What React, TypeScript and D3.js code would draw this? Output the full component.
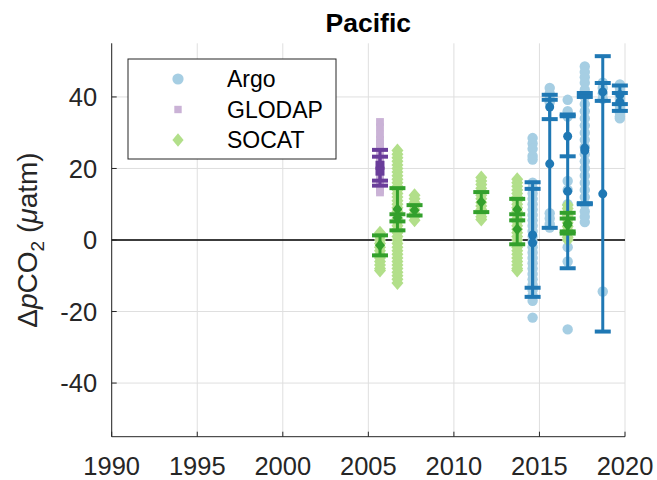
import React from "react";
import * as d3 from "d3";

// Axes limits and ticks
const xDomain: [number, number] = [1990, 2020];
const yDomain: [number, number] = [-55, 55];
const xTicks = [1990, 1995, 2000, 2005, 2010, 2015, 2020];
const yTicks = [-40, -20, 0, 20, 40];

// Argo individual crossovers (one column per year)
const argoYears = [2014.6, 2015.6, 2016.65, 2017.65, 2018.7, 2019.7];
const argoValues = [
  [28.5, 27, 25.5, 23.5, 22.5, 16, 14.5, 13, 11.5, 10, 8.5, 7, 5.5, 4, 2.5, 1, -0.5, -2, -3.5, -5, -6.5, -8, -9.5, -11, -12.5, -14, -15.5, -17, -21.7],
  [42.5, 41, 39.5, 38.5, 7.5, 6, 4.5, 3.5],
  [39.2, 36, 34.5, 16.5, 14, 10, 6, 2, -2, -6, -25],
  [48.5, 47, 45.5, 44, 42, 40, 38, 36, 34, 32, 30, 28, 26, 24, 22, 20, 18, 16, 14, 12, 10, 8, 6.5, 5],
  [44, 42.5, 41, 39.5, -14.4],
  [43.5, 42.5, 41.5, 40.5, 39.5, 38.5, 37.5, 36.5, 35.5, 34.5, 34],
];
// Argo mean ± std
const argoBarYears = [2014.6, 2014.6, 2015.6, 2015.6, 2016.65, 2016.65, 2017.65, 2017.65, 2018.7, 2018.7, 2019.7, 2019.7];
const argoBarMeans = [1.4, -0.8, 21.3, 37.2, 13.6, 29, 25.7, 25.0, 12.9, 41.4, 40.6, 38.6];
const argoBarStds = [14.75, 15.1, 17.9, 3.4, 21.5, 5.6, 15.4, 15.0, 38.5, 2.5, 2.6, 2.5];

// GLODAP individual crossovers
const glodapYears = [2005.68];
const glodapValues = [[33, 31.5, 29.5, 28, 27, 26, 25, 24, 23, 22, 21, 20, 19, 18, 17, 16, 15, 14, 13.3]];
const glodapBarYears = [2005.68, 2005.68];
const glodapBarMeans = [20.9, 19.25];
const glodapBarStds = [4.3, 4.05];

// SOCAT individual crossovers
const socatYears = [2005.68, 2006.7, 2007.7, 2011.6, 2013.7, 2016.65];
const socatValues = [
  [2, 1, 0, -1, -2, -3, -4, -5, -6, -7, -8, -8.5],
  [25, 24, 23, 22, 21, 20, 19, 18, 17, 16, 15, 14, 13, 12, 11, 10, 9, 8, 7, 6, 5, 4, 3, 2, 1, 0, -1, -2, -3, -4, -5, -6, -7, -8, -9, -10, -11, -12],
  [12.5, 11.5, 10.5, 9.5, 8.5, 7.5, 6.5, 5.5],
  [17.5, 16.5, 15.5, 14.5, 13.5, 12.5, 11.5, 10.5, 9.5, 8.5, 7.5, 6.5, 5.7],
  [17, 16, 15, 14, 13, 12, 11, 10, 9, 8, 7, 6, 5, 4, 3, 2, 1, 0, -1, -2, -3, -4, -5, -6, -7, -8, -8.5],
  [9.8, 8.8, 7.8, 6.8, 5.8, 4.8, 3.8, 2.8, 1.8, 0.8, 0],
];
const socatBarYears = [2005.68, 2006.7, 2006.7, 2007.7, 2011.6, 2013.7, 2013.7, 2016.65, 2016.65];
const socatBarMeans = [-1.5, 8.6, 6.2, 8.3, 10.6, 8.5, 3.0, 4.7, 4.2];
const socatBarStds = [2.8, 5.9, 1.0, 1.45, 2.8, 3.0, 4.2, 2.9, 1.8];

const legendLabels = ["Argo", "GLODAP", "SOCAT"];

const LIGHT = { argo: "#a6cee3", glodap: "#cab2d6", socat: "#b2df8a" };
const DARK = { argo: "#1f78b4", glodap: "#6a3d9a", socat: "#33a02c" };

const AX = "#262626";
const GRID = "#dfdfdf";
const FONT = "'Liberation Sans', Arial, Helvetica, sans-serif";

const W = 657;
const H = 480;
const plot = { left: 111.7, right: 625, top: 43.3, bottom: 436.7 };

type Pt = { x: number; y: number };
type Bar = { x: number; mean: number; std: number };

const flatten = (years: number[], values: number[][]): Pt[] =>
  years.flatMap((yr, i) => values[i].map((v) => ({ x: yr, y: v })));

const bars = (years: number[], means: number[], stds: number[]): Bar[] =>
  years.map((yr, i) => ({ x: yr, mean: means[i], std: stds[i] }));

const diamond = (hw: number, hh: number) => `M0,${-hh}L${hw},0L0,${hh}L${-hw},0Z`;

type Shape = "circle" | "square" | "diamond";

function Marker({ shape, cx, cy, size, fill }: { shape: Shape; cx: number; cy: number; size: number; fill: string }) {
  if (shape === "circle") return <circle cx={cx} cy={cy} r={size} fill={fill} />;
  if (shape === "square")
    return <rect x={cx - size} y={cy - size} width={size * 2} height={size * 2} fill={fill} />;
  return <path d={diamond(size, size * 1.2)} transform={`translate(${cx},${cy})`} fill={fill} />;
}

export default function App() {
  const x = d3.scaleLinear().domain(xDomain).range([plot.left, plot.right]);
  const y = d3.scaleLinear().domain(yDomain).range([plot.bottom, plot.top]);

  const argoPts = flatten(argoYears, argoValues);
  const glodapPts = flatten(glodapYears, glodapValues);
  const socatPts = flatten(socatYears, socatValues);

  const argoBars = bars(argoBarYears, argoBarMeans, argoBarStds);
  const glodapBars = bars(glodapBarYears, glodapBarMeans, glodapBarStds);
  const socatBars = bars(socatBarYears, socatBarMeans, socatBarStds);

  const capHalf = 8;

  const renderBars = (bs: Bar[], color: string, shape: Shape, key: string) =>
    bs.map((b, i) => {
      const px = x(b.x);
      const yHi = y(b.mean + b.std);
      const yLo = y(b.mean - b.std);
      return (
        <g key={`${key}-${i}`}>
          <line x1={px} x2={px} y1={yHi} y2={yLo} stroke={color} strokeWidth={3} />
          <line x1={px - capHalf} x2={px + capHalf} y1={yHi} y2={yHi} stroke={color} strokeWidth={4} />
          <line x1={px - capHalf} x2={px + capHalf} y1={yLo} y2={yLo} stroke={color} strokeWidth={4} />
          <Marker shape={shape} cx={px} cy={y(b.mean)} size={shape === "diamond" ? 5 : 4.5} fill={color} />
        </g>
      );
    });

  const legendItems: { label: string; shape: Shape; color: string; size: number }[] = [
    { label: legendLabels[0], shape: "circle", color: LIGHT.argo, size: 5.6 },
    { label: legendLabels[1], shape: "square", color: LIGHT.glodap, size: 3.7 },
    { label: legendLabels[2], shape: "diamond", color: LIGHT.socat, size: 5.6 },
  ];

  const yLabelX = 36.5;
  const yLabelY = (plot.top + plot.bottom) / 2;

  return (
    <div style={{ position: "fixed", left: 0, top: 0 }}>
      <svg width={W} height={H} style={{ display: "block", background: "#ffffff" }} fontFamily={FONT}>
        {/* grid */}
        {xTicks.map((t) => (
          <line key={`gx${t}`} x1={x(t)} x2={x(t)} y1={plot.top} y2={plot.bottom} stroke={GRID} strokeWidth={1} />
        ))}
        {yTicks.map((t) => (
          <line key={`gy${t}`} x1={plot.left} x2={plot.right} y1={y(t)} y2={y(t)} stroke={GRID} strokeWidth={1} />
        ))}

        {/* zero reference */}
        <line x1={plot.left} x2={plot.right} y1={y(0)} y2={y(0)} stroke="#000000" strokeWidth={1.3} />

        {/* individual crossovers */}
        {argoPts.map((p, i) => (
          <circle key={`ap${i}`} cx={x(p.x)} cy={y(p.y)} r={5.2} fill={LIGHT.argo} />
        ))}
        {glodapPts.map((p, i) => (
          <rect key={`gp${i}`} x={x(p.x) - 3.9} y={y(p.y) - 3.9} width={7.8} height={7.8} fill={LIGHT.glodap} />
        ))}
        {socatPts.map((p, i) => (
          <path key={`sp${i}`} d={diamond(6, 7)} transform={`translate(${x(p.x)},${y(p.y)})`} fill={LIGHT.socat} />
        ))}

        {/* mean ± std */}
        {renderBars(argoBars, DARK.argo, "circle", "ab")}
        {renderBars(glodapBars, DARK.glodap, "square", "gb")}
        {renderBars(socatBars, DARK.socat, "diamond", "sb")}

        {/* axes */}
        <line x1={plot.left} x2={plot.left} y1={plot.top} y2={plot.bottom} stroke={AX} strokeWidth={1} />
        <line x1={plot.left} x2={plot.right} y1={plot.bottom} y2={plot.bottom} stroke={AX} strokeWidth={1} />
        {xTicks.map((t) => (
          <g key={`xt${t}`}>
            <line x1={x(t)} x2={x(t)} y1={plot.bottom} y2={plot.bottom - 5} stroke={AX} strokeWidth={1} />
            <text x={x(t)} y={475} textAnchor="middle" fontSize={25.5} fill={AX}>
              {t}
            </text>
          </g>
        ))}
        {yTicks.map((t) => (
          <g key={`yt${t}`}>
            <line x1={plot.left} x2={plot.left + 5} y1={y(t)} y2={y(t)} stroke={AX} strokeWidth={1} />
            <text x={plot.left - 14.5} y={y(t) + 9.2} textAnchor="end" fontSize={25.5} fill={AX}>
              {t}
            </text>
          </g>
        ))}

        {/* y label */}
        <text
          transform={`translate(${yLabelX},${yLabelY}) rotate(-90)`}
          textAnchor="middle"
          fontSize={28}
          fill={AX}
        >
          <tspan>Δ</tspan>
          <tspan fontStyle="italic">p</tspan>
          <tspan>CO</tspan>
          <tspan fontSize={19} dy={7}>2</tspan>
          <tspan dy={-7}> (</tspan>
          <tspan fontStyle="italic">μ</tspan>
          <tspan>atm)</tspan>
        </text>

        {/* title */}
        <text x={(plot.left + plot.right) / 2} y={32} textAnchor="middle" fontSize={26.5} fontWeight="bold" fill="#000000">
          Pacific
        </text>

        {/* legend */}
        <rect x={128} y={59} width={208} height={100} fill="#ffffff" stroke={AX} strokeWidth={1} />
        {legendItems.map((it, i) => {
          const ly = [79, 109.5, 140][i];
          return (
            <g key={`lg${i}`}>
              <Marker shape={it.shape} cx={178} cy={ly} size={it.size} fill={it.color} />
              <text x={227} y={ly + 8.2} fontSize={23} fill="#000000">
                {it.label}
              </text>
            </g>
          );
        })}
      </svg>
    </div>
  );
}
